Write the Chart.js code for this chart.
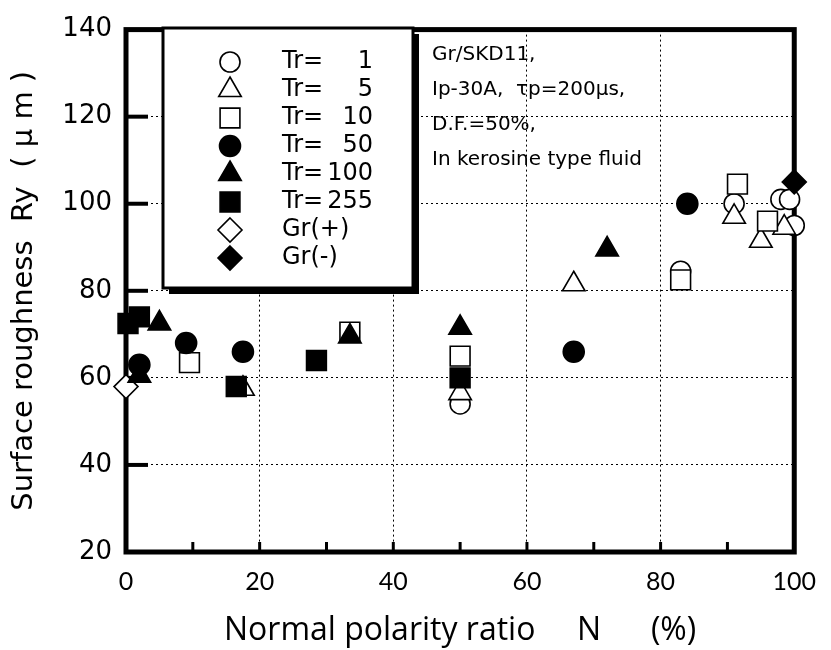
<!DOCTYPE html>
<html lang="en">
<head>
<meta charset="UTF-8">
<title>Surface roughness vs normal polarity ratio</title>
<script src="https://cdn.jsdelivr.net/npm/chart.js"></script>
<style>
    html, body { margin: 0; padding: 0; background: #fff; }
    .chart-container { width: 831px; height: 650px; }
</style>
</head>
<body>
<div class="chart-container"><canvas id="ry-chart"></canvas></div>
<script>
// Normal polarity ratio N (%) -> surface roughness Ry (um), one pair of arrays per setting
const tr1N = [50, 83, 91, 98, 99.3, 100];
const tr1Ry = [54, 84.5, 100, 101, 101, 95];
const tr5N = [17.5, 50, 67, 91, 95, 98.5];
const tr5Ry = [57.5, 56.5, 81.5, 97, 91.5, 94.5];
const tr10N = [9.5, 33.5, 50, 83, 91.5, 96];
const tr10Ry = [63.5, 70.5, 65, 82.5, 104.5, 96];
const tr50N = [2, 9, 17.5, 67, 84];
const tr50Ry = [63, 68, 66, 66, 100];
const tr100N = [2, 5, 33.5, 50, 72];
const tr100Ry = [60.5, 72.5, 69.5, 71.5, 89.5];
const tr255N = [0.3, 2, 16.5, 28.5, 50];
const tr255Ry = [72.5, 74, 58, 64, 60];
const grPlusN = [0];
const grPlusRy = [58];
const grMinusN = [100];
const grMinusRy = [105];

const seriesNames = ['Tr=', 'Tr=', 'Tr=', 'Tr=', 'Tr=', 'Tr=', 'Gr(+)', 'Gr(-)'];
const trValues = ['1', '5', '10', '50', '100', '255', '', ''];

const xTickValues = [0, 20, 40, 60, 80, 100];
const yTickValues = [20, 40, 60, 80, 100, 120, 140];
const xMinorTicks = [10, 20, 30, 40, 50, 60, 70, 80, 90];

const noteLines = ['Gr/SKD11,', 'Ip-30A,  \u03c4p=200\u03bcs,', 'D.F.=50%,', 'In kerosine type fluid'];

function pairs(xs, ys) {
    return xs.map((x, i) => ({ x: x, y: ys[i] }));
}

// marker look per series: shape, radius, filled or hollow
const markers = [
    { style: 'circle', r: 10, fill: false },
    { style: 'triangle', r: 13, fill: false },
    { style: 'rect', r: 14, fill: false },
    { style: 'circle', r: 10.5, fill: true },
    { style: 'triangle', r: 13, fill: true },
    { style: 'rect', r: 14, fill: true },
    { style: 'rectRot', r: 12, fill: false },
    { style: 'rectRot', r: 12, fill: true }
];
const seriesData = [
    pairs(tr1N, tr1Ry), pairs(tr5N, tr5Ry), pairs(tr10N, tr10Ry),
    pairs(tr50N, tr50Ry), pairs(tr100N, tr100Ry), pairs(tr255N, tr255Ry),
    pairs(grPlusN, grPlusRy), pairs(grMinusN, grMinusRy)
];
// hollow marks sit under the solid ones
const drawOrder = [3, 2, 1, 0, 0, 0, 0, 0];

const datasets = seriesData.map((d, i) => ({
    label: seriesNames[i] + trValues[i],
    data: d,
    pointStyle: markers[i].style,
    pointRadius: markers[i].r,
    pointHoverRadius: markers[i].r,
    backgroundColor: markers[i].fill ? '#000' : '#fff',
    borderColor: '#000',
    borderWidth: 1.6,
    order: drawOrder[i],
    clip: false
}));

// same shapes as Chart.js draws, used for the boxed key
function drawMarker(ctx, m, x, y) {
    ctx.save();
    ctx.beginPath();
    const r = m.r;
    if (m.style === 'circle') {
        ctx.arc(x, y, r, 0, Math.PI * 2);
    } else if (m.style === 'triangle') {
        const w = r * Math.sqrt(3) / 2;
        ctx.moveTo(x, y - r);
        ctx.lineTo(x + w, y + r / 2);
        ctx.lineTo(x - w, y + r / 2);
        ctx.closePath();
    } else if (m.style === 'rect') {
        const s = r * Math.SQRT1_2;
        ctx.rect(x - s, y - s, 2 * s, 2 * s);
    } else {
        ctx.moveTo(x, y - r);
        ctx.lineTo(x + r, y);
        ctx.lineTo(x, y + r);
        ctx.lineTo(x - r, y);
        ctx.closePath();
    }
    ctx.fillStyle = m.fill ? '#000' : '#fff';
    ctx.fill();
    ctx.lineWidth = 1.6;
    ctx.strokeStyle = '#000';
    ctx.stroke();
    ctx.restore();
}

// heavy frame and inward tick marks, under the data
const framePlugin = {
    id: 'frame',
    beforeDatasetsDraw(chart) {
        const ctx = chart.ctx;
        const a = chart.chartArea;
        const xs = chart.scales.x;
        const ys = chart.scales.y;
        ctx.save();
        ctx.strokeStyle = '#000';
        ctx.lineWidth = 5;
        ctx.strokeRect(a.left, a.top, a.right - a.left, a.bottom - a.top);
        ctx.lineWidth = 4;
        yTickValues.slice(1, -1).forEach(v => {
            const py = ys.getPixelForValue(v);
            ctx.beginPath();
            ctx.moveTo(a.left, py);
            ctx.lineTo(a.left + 22, py);
            ctx.stroke();
        });
        ctx.lineWidth = 3;
        xMinorTicks.forEach(v => {
            const px = xs.getPixelForValue(v);
            ctx.beginPath();
            ctx.moveTo(px, a.bottom);
            ctx.lineTo(px, a.bottom - 10);
            ctx.stroke();
        });
        ctx.restore();
    },
    afterDraw(chart) {
        const ctx = chart.ctx;
        ctx.save();
        // key box with drop shadow
        const bx = 163, by = 28, bw = 250, bh = 260;
        ctx.fillStyle = '#000';
        ctx.fillRect(bx + 6, by + 6, bw, bh);
        ctx.fillStyle = '#fff';
        ctx.fillRect(bx, by, bw, bh);
        ctx.lineWidth = 3;
        ctx.strokeStyle = '#000';
        ctx.strokeRect(bx, by, bw, bh);

        ctx.font = '24px "DejaVu Sans"';
        ctx.fillStyle = '#000';
        ctx.textBaseline = 'middle';
        markers.forEach((m, i) => {
            const ry = 62 + i * 28;
            drawMarker(ctx, m, 230, ry);
            ctx.textAlign = 'left';
            ctx.fillText(seriesNames[i], 282, ry);
            ctx.textAlign = 'right';
            ctx.fillText(trValues[i], 373, ry);
        });

        // test conditions
        ctx.textAlign = 'left';
        ctx.textBaseline = 'alphabetic';
        ctx.font = '20px "DejaVu Sans"';
        noteLines.forEach((t, i) => {
            ctx.fillText(t, 432, 60 + i * 35);
        });
        ctx.restore();
    }
};

const ctx = document.getElementById('ry-chart').getContext('2d');
new Chart(ctx, {
    type: 'scatter',
    data: { datasets: datasets },
    options: {
        responsive: true,
        maintainAspectRatio: false,
        animation: false,
        layout: { padding: { top: 20, right: 24, left: 0, bottom: 0 } },
        plugins: { legend: { display: false }, tooltip: { enabled: false } },
        scales: {
            x: {
                type: 'linear',
                min: 0,
                max: 100,
                afterBuildTicks: s => { s.ticks = xTickValues.map(v => ({ value: v })); },
                afterFit: s => { s.height = 98; },
                grid: { color: '#000', lineWidth: 1, drawTicks: false },
                border: { display: false, dash: [2, 3] },
                ticks: { color: '#000', padding: 15, font: { family: 'Lato', size: 25 } },
                title: {
                    display: true,
                    text: 'Normal polarity ratio     N      (%)',
                    color: '#000',
                    font: { family: 'Open Sans', size: 32 },
                    padding: { top: 0, bottom: 0 }
                }
            },
            y: {
                type: 'linear',
                min: 20,
                max: 140,
                afterBuildTicks: s => { s.ticks = yTickValues.map(v => ({ value: v })); },
                afterFit: s => { s.width = 126; },
                grid: { color: '#000', lineWidth: 1, drawTicks: false },
                border: { display: false, dash: [2, 3] },
                ticks: { color: '#000', padding: 14, font: { family: 'DejaVu Sans', size: 26 } },
                title: {
                    display: true,
                    text: 'Surface roughness  Ry  ( \u03bc m )',
                    color: '#000',
                    font: { family: 'DejaVu Sans', size: 29 },
                    padding: { top: 7, bottom: 0 }
                }
            }
        }
    },
    plugins: [framePlugin]
});
</script>
</body>
</html>
